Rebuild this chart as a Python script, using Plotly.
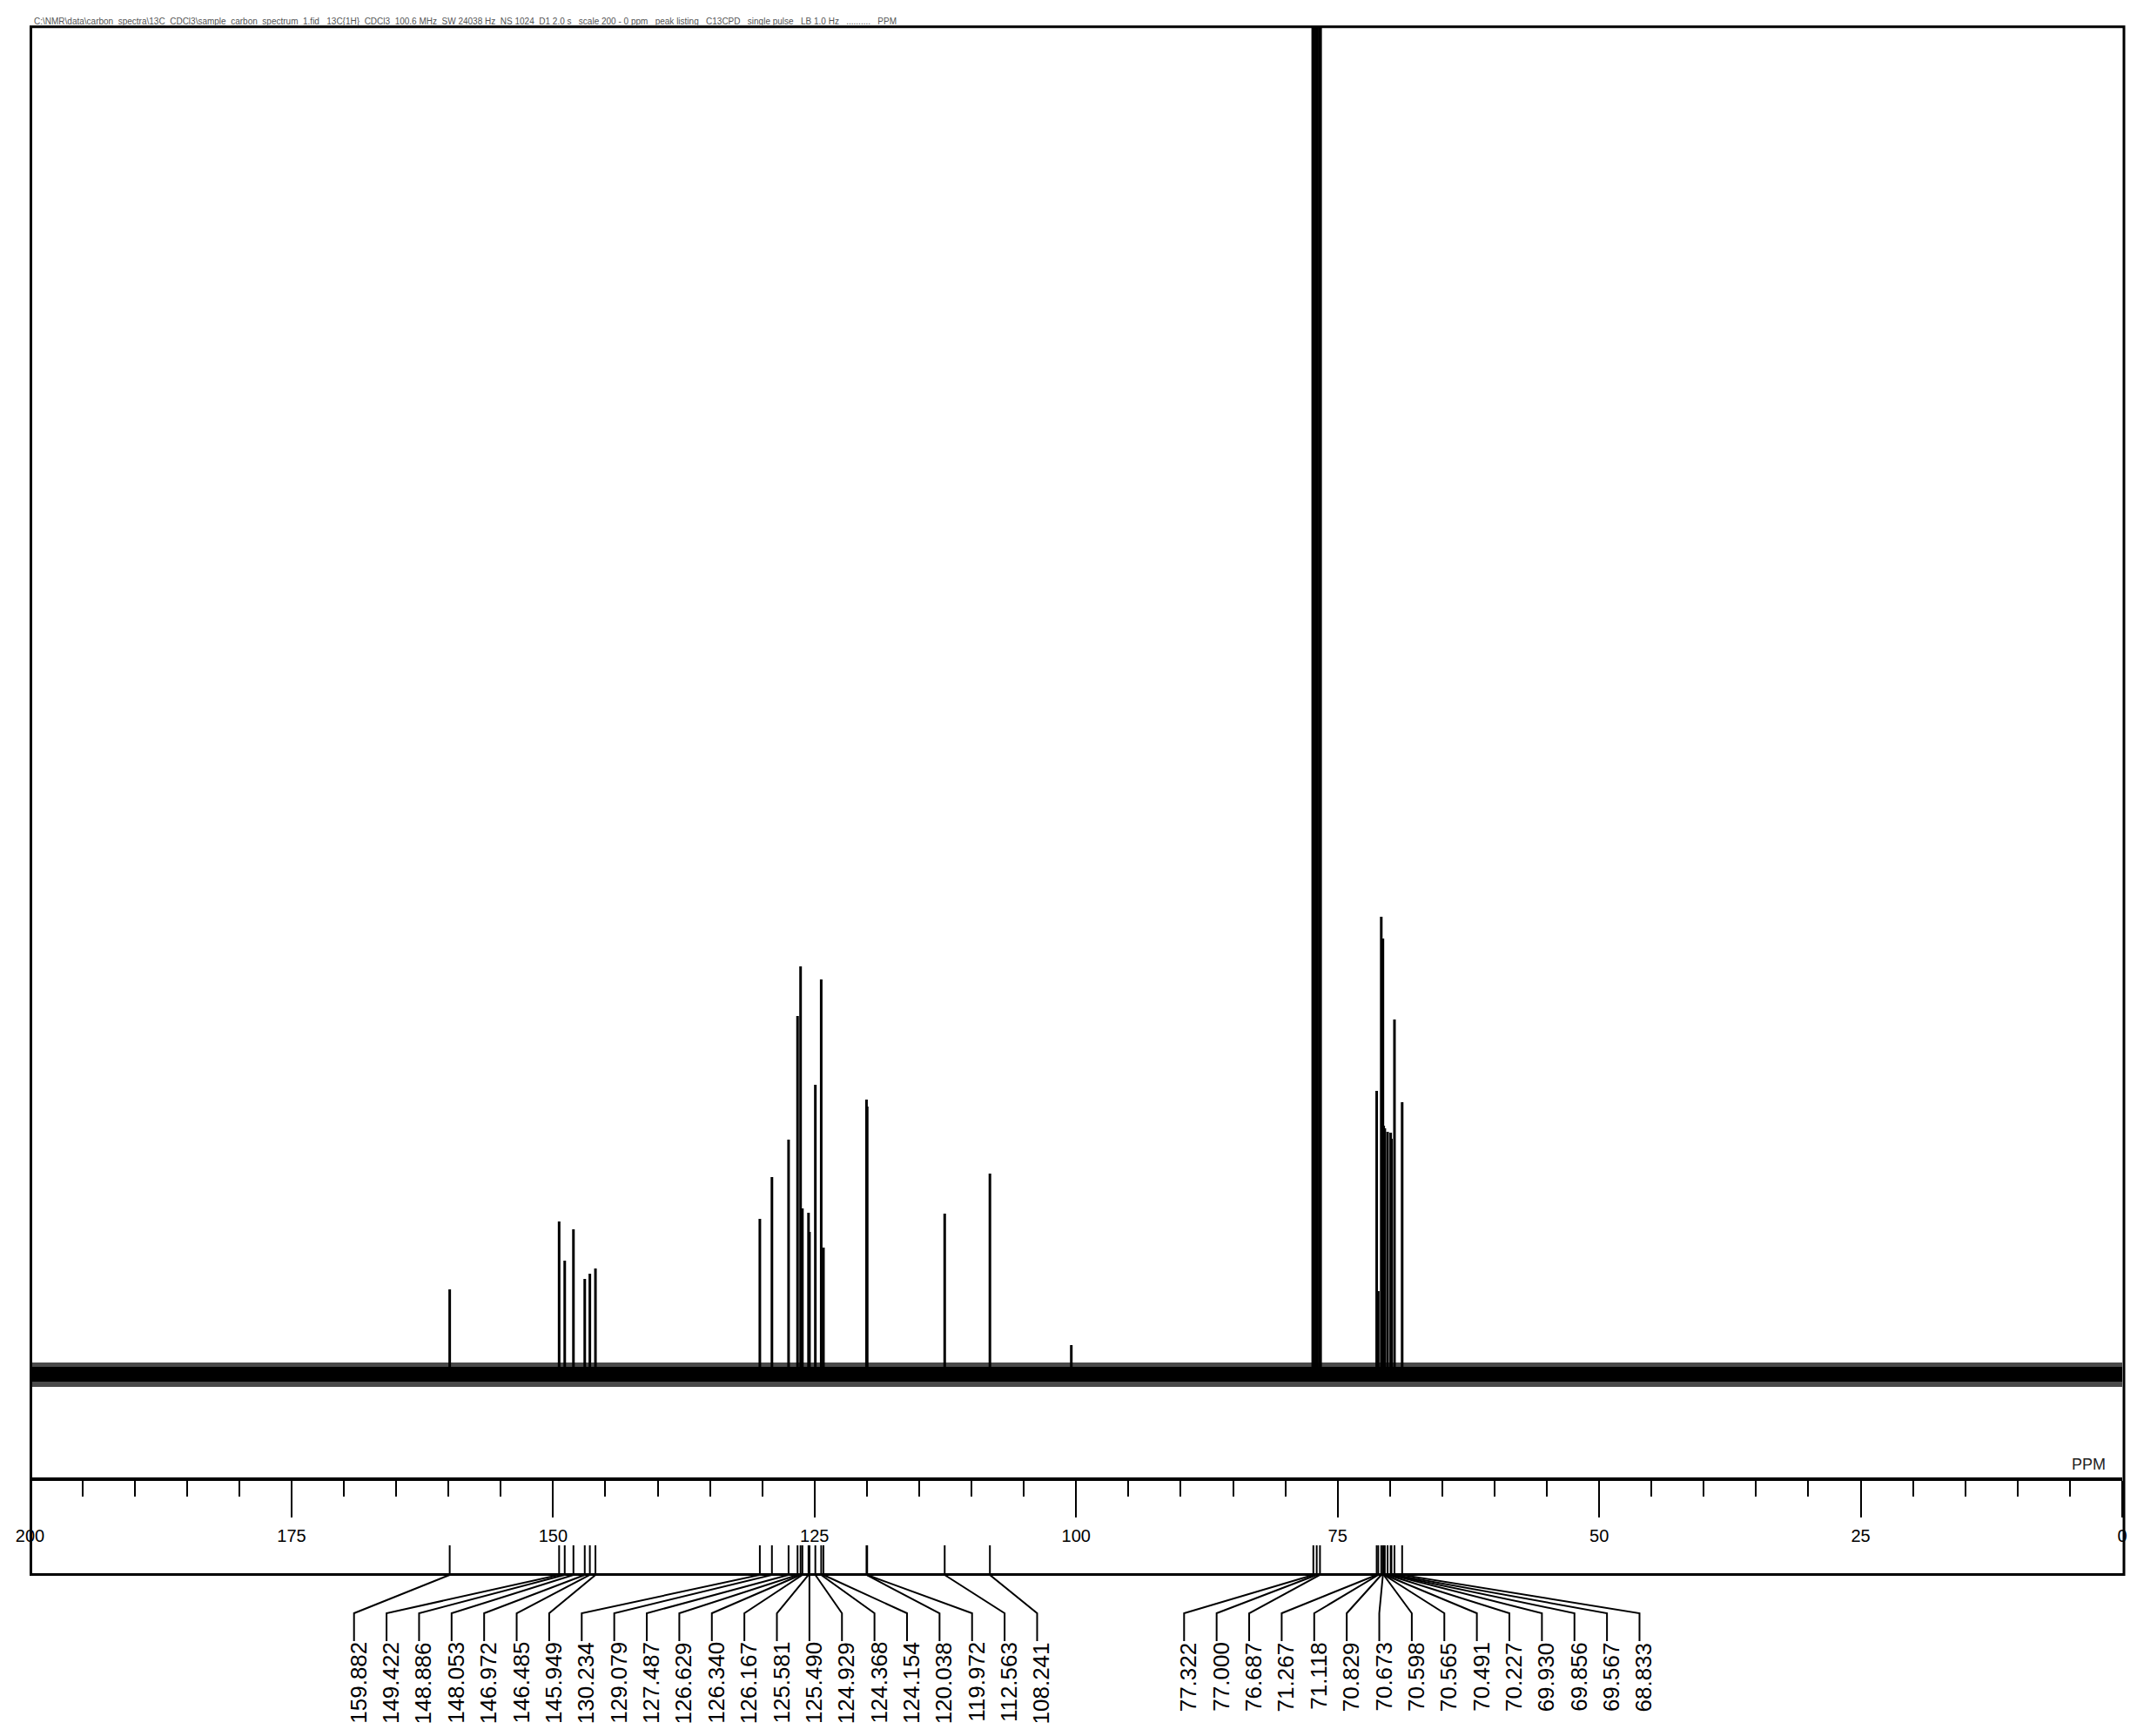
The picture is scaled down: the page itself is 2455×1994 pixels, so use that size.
import plotly.graph_objects as go

# ---------------- data ----------------
# labelled aromatic / sp2 carbons (ppm) and their peak heights (a.u.)
aro_ppm = [159.882, 149.422, 148.886, 148.053, 146.972, 146.485, 145.949,
           130.234, 129.079, 127.487, 126.629, 126.340, 126.167, 125.581,
           125.490, 124.929, 124.368, 124.154, 120.038, 119.972, 112.563,
           108.241]
aro_int = [97, 175, 130, 166, 109, 115, 121,
           178, 226, 269, 411, 468, 190, 185,
           163, 332, 453, 145, 315, 307, 184,
           230]

# labelled aliphatic carbons (CDCl3 triplet first, off scale)
ali_ppm = [77.322, 77.000, 76.687, 71.267, 71.118, 70.829, 70.673, 70.598,
           70.565, 70.491, 70.227, 69.930, 69.856, 69.567, 68.833]
ali_int = [2300, 2500, 2300, 325, 95, 525, 500, 285,
           280, 282, 278, 277, 270, 407, 312]
solvent_count = 3            # first three aliphatic lines are CDCl3

# small unlabelled signal
minor_ppm = [100.46]
minor_int = [33]

# baseline noise: dense core and outer envelope (a.u.)
noise_core = (-9, 8)
noise_env = (-15, 13)

# axis
ppm_max, ppm_min = 200, 0
major_tick = 25
minor_tick = 5

# ---------------- layout geometry (reference pixels) ----------------
OFF = 8                      # browser body margin
W, H = 2455 - 2 * OFF, 1994 - 2 * OFF
AX_L, AX_R = 34.5, 2438.0    # x of 200 ppm and 0 ppm
SPEC_TOP, AXIS_Y = 30, 1697
BASE_Y = 1578
FRAME = dict(l=35.5, r=2440, t=30.7, b=1808.5)

def px(x):
    return (x - OFF) / W

def py(y):
    return 1 - (y - OFF) / H

ppm_per_px = (ppm_max - ppm_min) / (AX_R - AX_L)
def ppm_at(xpx):
    return ppm_max - (xpx - AX_L) * ppm_per_px

FONT = "Liberation Sans, Arial, sans-serif"

fig = go.Figure()

# baseline noise (envelope, then dense core)
for (lo, hi), col in ((noise_env, "#4a4a4a"), (noise_core, "black")):
    fig.add_trace(go.Scatter(
        x=[ppm_max, ppm_min, ppm_min, ppm_max, ppm_max],
        y=[lo, lo, hi, hi, lo],
        mode="lines", fill="toself", fillcolor=col,
        line=dict(color=col, width=0), hoverinfo="skip", showlegend=False,
        xaxis="x", yaxis="y"))

# spectrum sticks
def sticks(ppms, ints):
    sx, sy = [], []
    for p, h in zip(ppms, ints):
        sx += [p, p, None]
        sy += [0, h, None]
    return sx, sy

sx, sy = sticks(aro_ppm + ali_ppm[solvent_count:] + minor_ppm,
                aro_int + ali_int[solvent_count:] + minor_int)
fig.add_trace(go.Scatter(x=sx, y=sy, mode="lines",
                         line=dict(color="black", width=3),
                         hoverinfo="skip", showlegend=False,
                         xaxis="x", yaxis="y"))
sx, sy = sticks(ali_ppm[:solvent_count], ali_int[:solvent_count])
fig.add_trace(go.Scatter(x=sx, y=sy, mode="lines",
                         line=dict(color="black", width=4.4),
                         hoverinfo="skip", showlegend=False,
                         xaxis="x", yaxis="y"))

# peak label leaders + labels
SPACING = 37.37
groups = [(aro_ppm, 406.7), (ali_ppm, 1360.3)]
lx, ly = [], []
annotations = []
for peaks, start in groups:
    for i, p in enumerate(peaks):
        lp = ppm_at(start + i * SPACING)
        lx += [p, p, lp, lp, None]
        ly += [1775, 1809, 1853, 1885, None]
        annotations.append(dict(
            x=lp, y=1884, xref="x2", yref="y2", text=f"{p:.3f}",
            textangle=-90, xanchor="center", yanchor="top", xshift=5,
            showarrow=False, font=dict(family=FONT, size=26, color="black")))
fig.add_trace(go.Scatter(x=lx, y=ly, mode="lines",
                         line=dict(color="black", width=2),
                         hoverinfo="skip", showlegend=False,
                         xaxis="x2", yaxis="y2"))

# PPM unit label
annotations.append(dict(
    x=px(2399), y=py(1682), xref="paper", yref="paper", text="PPM",
    xanchor="center", yanchor="middle", showarrow=False,
    font=dict(family=FONT, size=18, color="#222")))

# tiny header line
annotations.append(dict(
    x=px(37), y=py(24), xref="paper", yref="paper",
    text="C:\\NMR\\data\\carbon_spectra\\13C_CDCl3\\sample_carbon_spectrum_1.fid   "
         "13C{1H}  CDCl3  100.6 MHz  SW 24038 Hz  NS 1024  D1 2.0 s   "
         "scale 200 - 0 ppm   peak listing   C13CPD   single pulse   "
         "LB 1.0 Hz   ..........   PPM",
    xanchor="left", yanchor="middle", showarrow=False,
    font=dict(family=FONT, size=10, color="#555")))

xdom = [px(AX_L), px(AX_R)]
fig.update_layout(
    template="none",
    width=W, height=H,
    margin=dict(l=0, r=0, t=0, b=0, pad=0, autoexpand=False),
    paper_bgcolor="white", plot_bgcolor="rgba(0,0,0,0)",
    showlegend=False,
    xaxis=dict(domain=xdom, range=[ppm_max, ppm_min], anchor="y",
               automargin=False,
               showgrid=False, zeroline=False,
               showline=True, linecolor="black", linewidth=4,
               ticks="outside", ticklen=42, tickwidth=2, tickcolor="black",
               tick0=0, dtick=major_tick, ticklabelstandoff=4,
               tickfont=dict(family=FONT, size=20, color="black"),
               minor=dict(ticks="outside", ticklen=18, tickwidth=2,
                          tickcolor="black", dtick=minor_tick, tick0=0,
                          showgrid=False)),
    yaxis=dict(domain=[py(AXIS_Y), py(SPEC_TOP)],
               range=[-(AXIS_Y - BASE_Y), BASE_Y - SPEC_TOP],
               visible=False, fixedrange=True, automargin=False),
    xaxis2=dict(domain=xdom, matches="x", anchor="y2", visible=False,
                automargin=False),
    yaxis2=dict(domain=[0, py(AXIS_Y)], range=[H + OFF, AXIS_Y],
                visible=False, automargin=False),
    annotations=annotations,
    shapes=[dict(type="rect", xref="paper", yref="paper",
                 x0=px(FRAME["l"]), x1=px(FRAME["r"]),
                 y0=py(FRAME["b"]), y1=py(FRAME["t"]),
                 line=dict(color="black", width=3), layer="above")],
)

fig.write_html("out.html")
